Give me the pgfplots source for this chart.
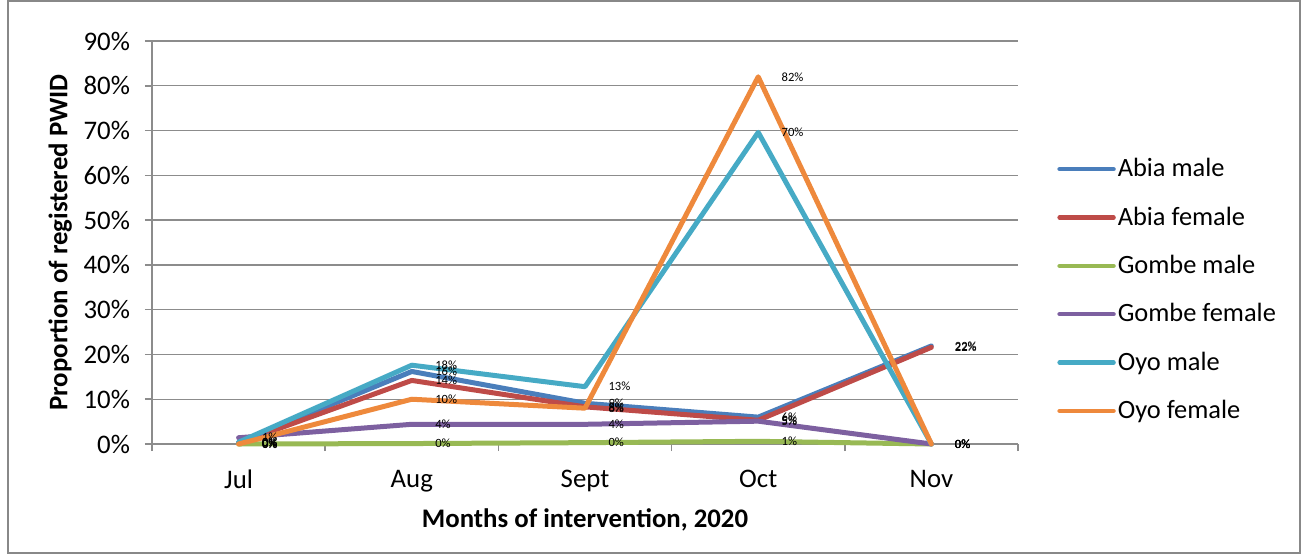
\documentclass[border=0pt]{standalone}
\usepackage{pgfplots}
\pgfplotsset{compat=1.18}
\usepackage{fontspec}
\setmainfont{Carlito}

\definecolor{abiaM}{HTML}{4A7EBB}
\definecolor{abiaF}{HTML}{BE4B48}
\definecolor{gombeM}{HTML}{98B954}
\definecolor{gombeF}{HTML}{7D60A0}
\definecolor{oyoM}{HTML}{46AAC5}
\definecolor{oyoF}{HTML}{EE893C}
\definecolor{gridgray}{HTML}{8C8C8C}
\definecolor{framegray}{HTML}{888888}

% Monthly share of registered PWID (%), months Jul..Nov coded 0..4
\begin{document}
\begin{tikzpicture}
\useasboundingbox (-76pt,-57pt) rectangle (576pt,222pt);
\draw[framegray, line width=0.6pt] (-72pt,-54.5pt) rectangle (574pt,221.5pt);
\begin{axis}[
  at={(0pt,0pt)}, anchor=south west,
  scale only axis, width=433pt, height=201.5pt,
  font=\fontsize{13.4}{15}\selectfont,
  /pgf/number format/assume math mode=true,
  xmin=-0.5, xmax=4.5, ymin=0, ymax=90,
  xtick={0,1,2,3,4},
  xticklabels={Jul,Aug,Sept,Oct,Nov},
  major x tick style={draw=none},
  minor xtick={-0.5,0.5,1.5,2.5,3.5,4.5},
  minor x tick style={gridgray, line width=0.8pt},
  minor tick length=3.5pt,
  ytick={0,10,...,90},
  yticklabel={\pgfmathprintnumber{\tick}\%},
  major tick length=3.5pt,
  y tick style={gridgray, line width=0.8pt},
  tick align=outside,
  axis lines*=left,
  axis line style={gridgray, line width=0.8pt},
  ymajorgrids, grid style={gridgray, line width=0.7pt},
  xticklabel style={yshift=-6pt},
  yticklabel style={xshift=-4pt},
  xlabel={\textbf{Months of intervention, 2020}},
  ylabel={\textbf{Proportion of registered PWID}},
  xlabel style={at={(axis description cs:0.5,0)}, anchor=center, yshift=-38pt},
  ylabel style={at={(axis description cs:-0.106,0.5)}, anchor=center},
  clip=false,
  every axis plot/.append style={line width=2.5pt, line cap=round, line join=round},
  nodes near coords={\pgfmathprintnumber[fixed,precision=0]{\pgfplotspointmeta}\%},
  nodes near coords style={font=\fontsize{6.3}{7}\selectfont, anchor=west, xshift=10pt, inner sep=0.5pt, text=black},
  legend style={draw=none, fill=none, at={(axis description cs:1.045,0.382)}, anchor=west,
    inner sep=0pt, row sep=11.5pt, nodes={inner sep=1pt},
    font=\fontsize{13.2}{15}\selectfont},
  legend cell align=left,
  legend image code/.code={\draw[#1, line width=2.2pt, line cap=round] (0pt,0pt) -- (27pt,0pt);},
]
\addplot[abiaM] coordinates {(0,0.3) (1,16.2) (2,9.1) (3,6.0) (4,21.9)};
\addlegendentry{Abia male}
\addplot[abiaF] coordinates {(0,0.2) (1,14.2) (2,8.3) (3,5.3) (4,21.6)};
\addlegendentry{Abia female}
\addplot[gombeM] coordinates {(0,0) (1,0.1) (2,0.3) (3,0.6) (4,0)};
\addlegendentry{Gombe male}
\addplot[gombeF] coordinates {(0,1.4) (1,4.4) (2,4.4) (3,5.1) (4,0)};
\addlegendentry{Gombe female}
\addplot[oyoM] coordinates {(0,0.4) (1,17.6) (2,12.8) (3,69.6) (4,0)};
\addlegendentry{Oyo male}
\addplot[oyoF] coordinates {(0,0) (1,10.0) (2,8.0) (3,82.0) (4,0)};
\addlegendentry{Oyo female}
\end{axis}
\end{tikzpicture}
\end{document}
